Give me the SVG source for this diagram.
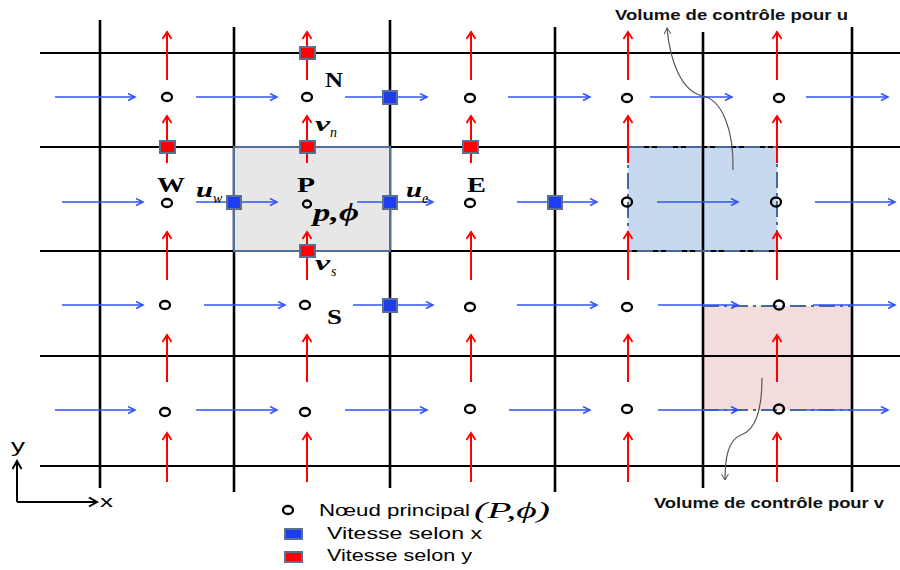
<svg xmlns="http://www.w3.org/2000/svg" width="900" height="570" viewBox="0 0 900 570">
<defs>
<marker id="hb" markerUnits="userSpaceOnUse" markerWidth="10" markerHeight="10" refX="8" refY="4" orient="auto"><path d="M1,0.5 L8,4 L1,7.5" fill="none" stroke="#3050ff" stroke-width="1.5"/></marker>
<marker id="hr" markerUnits="userSpaceOnUse" markerWidth="12" markerHeight="12" refX="8" refY="5" orient="auto"><path d="M1,0.5 L8,5 L1,9.5" fill="none" stroke="#ff0000" stroke-width="1.8"/></marker>
<marker id="hg" markerUnits="userSpaceOnUse" markerWidth="10" markerHeight="10" refX="7" refY="4" orient="auto"><path d="M1,0.5 L7,4 L1,7.5" fill="none" stroke="#555" stroke-width="1"/></marker>
<marker id="hk" markerUnits="userSpaceOnUse" markerWidth="12" markerHeight="12" refX="9" refY="5" orient="auto"><path d="M1,0.5 L9,5 L1,9.5" fill="none" stroke="#000" stroke-width="2"/></marker>
</defs>
<style>
.gh{stroke:#000;stroke-width:2}
.gv{stroke:#000;stroke-width:2.6}
.ua{stroke:#3050ff;stroke-width:1.5;marker-end:url(#hb)}
.va{stroke:#ff0000;stroke-width:2;marker-end:url(#hr)}
.nd{fill:none;stroke:#000;stroke-width:2.3}
.us{fill:#1f3cf5;stroke:#5a7090;stroke-width:2}
.vs{fill:#ff0000;stroke:#5a7090;stroke-width:2}
.dd{fill:none;stroke:#48689a;stroke-width:2;stroke-dasharray:16 5 3 5}
.lb{font-family:"Liberation Serif",serif;font-weight:bold;font-size:21px;fill:#000}
.it{font-family:"Liberation Serif",serif;font-style:italic;font-weight:bold;fill:#000}
.sb{font-family:"Liberation Serif",serif;font-style:italic;font-size:14px;fill:#000}
.cv{font-family:"Liberation Sans",Arial,sans-serif;font-weight:bold;font-size:14px;fill:#111}
.lg{font-family:"Liberation Sans",Arial,sans-serif;font-size:16px;fill:#000}
.lp{font-family:"Liberation Serif",serif;font-style:italic;font-size:23px;fill:#000}
.cn{fill:none;stroke:#555;stroke-width:1.2}
</style>
<rect width="900" height="570" fill="#fff"/>
<g id="cv-u"><rect x="628" y="147" width="149" height="104" fill="#c6d9ef"/></g>
<g id="cv-v"><rect x="703" y="306" width="149" height="104" fill="#f2dcdc"/></g>
<g id="grid">
<line class="gh" x1="40" y1="53" x2="900" y2="53"/>
<line class="gh" x1="40" y1="147" x2="900" y2="147"/>
<line class="gh" x1="40" y1="251" x2="900" y2="251"/>
<line class="gh" x1="40" y1="356" x2="900" y2="356"/>
<line class="gh" x1="40" y1="466" x2="900" y2="466"/>
<line class="gv" x1="100" y1="20" x2="100" y2="488"/>
<line class="gv" x1="234" y1="27" x2="234" y2="492"/>
<line class="gv" x1="390" y1="20" x2="390" y2="488"/>
<line class="gv" x1="555" y1="27" x2="555" y2="492"/>
<line class="gv" x1="703" y1="32" x2="703" y2="488"/>
<line class="gv" x1="852" y1="27" x2="852" y2="492"/>
</g>
<g id="cell-P"><rect x="234" y="147" width="156" height="104" fill="#e7e7e7" stroke="#4f6f9f" stroke-width="2"/></g>
<g id="cv-borders">
<path class="dd" d="M628,147 H777 V251 H628 Z"/>
<line class="dd" x1="703" y1="306" x2="852" y2="306"/>
<line class="dd" x1="703" y1="410" x2="852" y2="410"/>
</g>
<g id="connectors">
<line class="ua" x1="55" y1="97" x2="135" y2="97"/>
<line class="ua" x1="196" y1="97" x2="277" y2="97"/>
<line class="ua" x1="345" y1="97" x2="427" y2="97"/>
<line class="ua" x1="508" y1="97" x2="590" y2="97"/>
<line class="ua" x1="650" y1="97" x2="732" y2="97"/>
<line class="ua" x1="806" y1="97" x2="888" y2="97"/>
<line class="ua" x1="62" y1="202" x2="143" y2="202"/>
<line class="ua" x1="196" y1="202" x2="277" y2="202"/>
<line class="ua" x1="357" y1="202" x2="433" y2="202"/>
<line class="ua" x1="517" y1="202" x2="597" y2="202"/>
<line class="ua" x1="657" y1="202" x2="738" y2="202"/>
<line class="ua" x1="815" y1="202" x2="895" y2="202"/>
<line class="ua" x1="62" y1="305" x2="143" y2="305"/>
<line class="ua" x1="204" y1="305" x2="285" y2="305"/>
<line class="ua" x1="353" y1="305" x2="433" y2="305"/>
<line class="ua" x1="517" y1="305" x2="597" y2="305"/>
<line class="ua" x1="658" y1="305" x2="738" y2="305"/>
<line class="ua" x1="813" y1="305" x2="895" y2="305"/>
<line class="ua" x1="55" y1="410" x2="135" y2="410"/>
<line class="ua" x1="196" y1="410" x2="277" y2="410"/>
<line class="ua" x1="345" y1="410" x2="427" y2="410"/>
<line class="ua" x1="509" y1="410" x2="590" y2="410"/>
<line class="ua" x1="658" y1="410" x2="738" y2="410"/>
<line class="ua" x1="805" y1="410" x2="888" y2="410"/>
<g id="v-arrows">
<line class="va" x1="167" y1="80" x2="167" y2="32"/><line class="va" x1="167" y1="163" x2="167" y2="116"/><line class="va" x1="167" y1="280" x2="167" y2="232"/><line class="va" x1="167" y1="382" x2="167" y2="335"/><line class="va" x1="167" y1="482" x2="167" y2="433"/>
<line class="va" x1="307" y1="80" x2="307" y2="32"/><line class="va" x1="307" y1="163" x2="307" y2="116"/><line class="va" x1="307" y1="280" x2="307" y2="232"/><line class="va" x1="307" y1="382" x2="307" y2="335"/><line class="va" x1="307" y1="482" x2="307" y2="433"/>
<line class="va" x1="471" y1="80" x2="471" y2="32"/><line class="va" x1="471" y1="163" x2="471" y2="116"/><line class="va" x1="471" y1="280" x2="471" y2="232"/><line class="va" x1="471" y1="382" x2="471" y2="335"/><line class="va" x1="471" y1="482" x2="471" y2="433"/>
<line class="va" x1="628" y1="80" x2="628" y2="32"/><line class="va" x1="628" y1="163" x2="628" y2="116"/><line class="va" x1="628" y1="280" x2="628" y2="232"/><line class="va" x1="628" y1="382" x2="628" y2="335"/><line class="va" x1="628" y1="482" x2="628" y2="433"/>
<line class="va" x1="777" y1="80" x2="777" y2="32"/><line class="va" x1="777" y1="163" x2="777" y2="116"/><line class="va" x1="777" y1="280" x2="777" y2="232"/><line class="va" x1="777" y1="382" x2="777" y2="335"/><line class="va" x1="777" y1="482" x2="777" y2="433"/>
</g>
<path class="cn" marker-end="url(#hg)" d="M733,170 C734,130 722,100 703,96 C682,92 670,62 667,28"/>
<path class="cn" marker-end="url(#hg)" d="M762,378 C762,410 756,430 741,435 C728,440 725,458 725,480"/>
<line stroke="#000" stroke-width="2" x1="17" y1="502" x2="17" y2="461" marker-end="url(#hk)"/>
<line stroke="#000" stroke-width="2" x1="17" y1="502" x2="97" y2="502" marker-end="url(#hk)"/>
</g>
<g id="v-nodes">
<rect class="vs" x="300" y="47" width="15" height="12"/>
<rect class="vs" x="160" y="141" width="15" height="12"/>
<rect class="vs" x="300" y="141" width="15" height="12"/>
<rect class="vs" x="463" y="141" width="15" height="12"/>
<rect class="vs" x="300" y="245" width="15" height="12"/>
</g>
<g id="u-nodes">
<rect class="us" x="383" y="91" width="14" height="13"/>
<rect class="us" x="227" y="196" width="14" height="13"/>
<rect class="us" x="383" y="196" width="14" height="13"/>
<rect class="us" x="548" y="196" width="14" height="13"/>
<rect class="us" x="383" y="299" width="14" height="13"/>
</g>
<g id="main-nodes">
<ellipse class="nd" cx="167" cy="97" rx="5" ry="4"/><ellipse class="nd" cx="307" cy="97" rx="5" ry="4"/><ellipse class="nd" cx="470" cy="98" rx="5" ry="4"/><ellipse class="nd" cx="627" cy="98" rx="5" ry="4"/><ellipse class="nd" cx="779" cy="98" rx="5" ry="4"/>
<ellipse class="nd" cx="167" cy="203" rx="5" ry="4"/><ellipse class="nd" cx="470" cy="203" rx="5" ry="4"/><ellipse class="nd" cx="627" cy="202" rx="5" ry="4.5"/><ellipse class="nd" cx="776" cy="202" rx="5" ry="4.5"/>
<ellipse class="nd" cx="165" cy="305" rx="5" ry="4"/><ellipse class="nd" cx="305" cy="305" rx="5" ry="4"/><ellipse class="nd" cx="470" cy="307" rx="5" ry="4"/><ellipse class="nd" cx="627" cy="307" rx="5" ry="4"/><ellipse class="nd" cx="779" cy="305" rx="5" ry="4.5"/>
<ellipse class="nd" cx="165" cy="412" rx="5" ry="4"/><ellipse class="nd" cx="305" cy="412" rx="5" ry="4"/><ellipse class="nd" cx="470" cy="409" rx="5" ry="4"/><ellipse class="nd" cx="627" cy="409" rx="5" ry="4"/><ellipse class="nd" cx="779" cy="409" rx="5" ry="4.5"/>
</g>
<g id="node-P"><ellipse class="nd" cx="307" cy="204" rx="4" ry="3.5" stroke-width="1.8"/>
<text class="lb" x="297" y="192" textLength="18" lengthAdjust="spacingAndGlyphs">P</text>
<text class="it" x="313" y="221" font-size="25" textLength="46" lengthAdjust="spacingAndGlyphs">p,ϕ</text></g>
<g id="node-N"><text class="lb" x="325" y="87" textLength="18" lengthAdjust="spacingAndGlyphs">N</text></g>
<g id="node-W"><text class="lb" x="157" y="192" textLength="28" lengthAdjust="spacingAndGlyphs">W</text></g>
<g id="node-E"><text class="lb" x="467" y="192" textLength="19" lengthAdjust="spacingAndGlyphs">E</text></g>
<g id="node-S"><text class="lb" x="327" y="324" font-size="18" textLength="15" lengthAdjust="spacingAndGlyphs">S</text></g>
<g id="labels">
<text class="it" x="196" y="197" font-size="21" textLength="17" lengthAdjust="spacingAndGlyphs">u</text><text class="sb" x="213" y="203">w</text>
<text class="it" x="406" y="197" font-size="21" textLength="16" lengthAdjust="spacingAndGlyphs">u</text><text class="sb" x="422" y="203">e</text>
<text class="it" x="315" y="131" font-size="22" textLength="15" lengthAdjust="spacingAndGlyphs">v</text><text class="sb" x="330" y="137">n</text>
<text class="it" x="315" y="270" font-size="22" textLength="15" lengthAdjust="spacingAndGlyphs">v</text><text class="sb" x="331" y="276">s</text>
<text class="cv" x="615" y="20" textLength="233" lengthAdjust="spacingAndGlyphs">Volume de contrôle pour u</text>
<text class="cv" x="654" y="508" textLength="230" lengthAdjust="spacingAndGlyphs">Volume de contrôle pour v</text>
<text font-family="Liberation Sans,Arial,sans-serif" font-size="18" x="11" y="452" textLength="14" lengthAdjust="spacingAndGlyphs">y</text>
<text font-family="Liberation Sans,Arial,sans-serif" font-size="16" x="100" y="507" textLength="13" lengthAdjust="spacingAndGlyphs">x</text>
</g>
<g id="legend">
<ellipse class="nd" cx="288" cy="510" rx="5" ry="4"/>
<text class="lg" x="319" y="516" textLength="151" lengthAdjust="spacingAndGlyphs">Nœud principal</text>
<text class="lp" x="474" y="518" textLength="76" lengthAdjust="spacingAndGlyphs">(P,ϕ)</text>
<rect class="us" x="285" y="529" width="17" height="10" stroke-width="1.5"/>
<text class="lg" x="327" y="539" textLength="155" lengthAdjust="spacingAndGlyphs">Vitesse selon x</text>
<rect class="vs" x="285" y="552" width="17" height="10" stroke-width="1.5"/>
<text class="lg" x="327" y="561" textLength="145" lengthAdjust="spacingAndGlyphs">Vitesse selon y</text>
</g>
</svg>
